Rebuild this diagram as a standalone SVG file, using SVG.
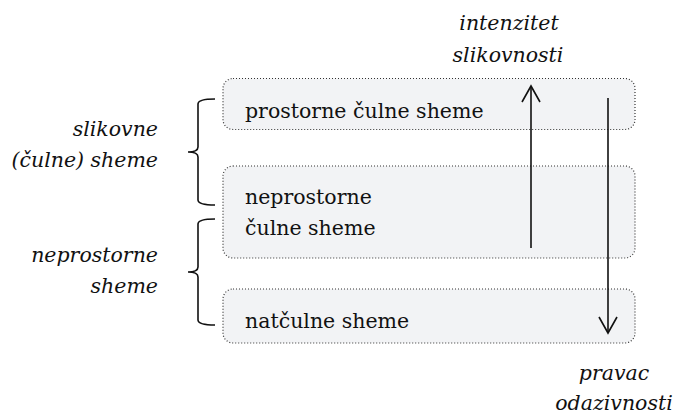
<svg xmlns="http://www.w3.org/2000/svg" width="679" height="415" viewBox="0 0 679 415">
  <defs>
    <style>
      .box { fill: #f2f3f5; stroke: #333; stroke-width: 1.2; stroke-dasharray: 1 2; }
      .lbl { font-family: 'DejaVu Serif', serif; font-size: 20.5px; fill: #111; }
      .it { font-style: italic; }
      .brace { fill: none; stroke: #111; stroke-width: 1.6; }
      .arr { fill: none; stroke: #111; stroke-width: 1.6; }
    </style>
    <marker id="vhead" viewBox="0 0 20 20" refX="17" refY="10" markerWidth="20" markerHeight="20" markerUnits="userSpaceOnUse" orient="auto">
      <path d="M 1 1 L 17 10 L 1 19" fill="none" stroke="#111" stroke-width="1.6"/>
    </marker>
  </defs>
  <rect width="679" height="415" fill="#fff"/>

  <g id="node-prostorne">
    <rect class="box" x="223" y="78.5" width="412" height="51" rx="10"/>
    <text class="lbl" x="245" y="118">prostorne čulne sheme</text>
  </g>
  <g id="node-neprostorne-culne">
    <rect class="box" x="223" y="166" width="412" height="92" rx="10"/>
    <text class="lbl" x="245" y="204">neprostorne</text>
    <text class="lbl" x="245" y="235">čulne sheme</text>
  </g>
  <g id="node-natculne">
    <rect class="box" x="223" y="289" width="412" height="54" rx="10"/>
    <text class="lbl" x="245" y="328">natčulne sheme</text>
  </g>

  <g id="group-slikovne">
    <path class="brace" d="M 215 99 Q 198 99 198 104 L 198 147 Q 198 152 188 152 Q 198 152 198 157 L 198 200 Q 198 205 215 205"/>
    <text class="lbl it" x="158" y="136" text-anchor="end">slikovne</text>
    <text class="lbl it" x="158" y="167" text-anchor="end">(čulne) sheme</text>
  </g>
  <g id="group-neprostorne">
    <path class="brace" d="M 215 219 Q 198 219 198 224 L 198 267 Q 198 272 188 272 Q 198 272 198 277 L 198 320 Q 198 325 215 325"/>
    <text class="lbl it" x="158" y="262" text-anchor="end">neprostorne</text>
    <text class="lbl it" x="158" y="293" text-anchor="end">sheme</text>
  </g>

  <g id="axis-labels">
    <text class="lbl it" x="509" y="30" text-anchor="middle">intenzitet</text>
    <text class="lbl it" x="508" y="62" text-anchor="middle">slikovnosti</text>
    <text class="lbl it" x="614" y="380" text-anchor="middle">pravac</text>
    <text class="lbl it" x="614" y="410" text-anchor="middle">odazivnosti</text>
  </g>

  <g id="connectors">
    <line class="arr" x1="531" y1="248" x2="531" y2="86" marker-end="url(#vhead)"/>
    <line class="arr" x1="608" y1="98" x2="608" y2="333" marker-end="url(#vhead)"/>
  </g>
</svg>
